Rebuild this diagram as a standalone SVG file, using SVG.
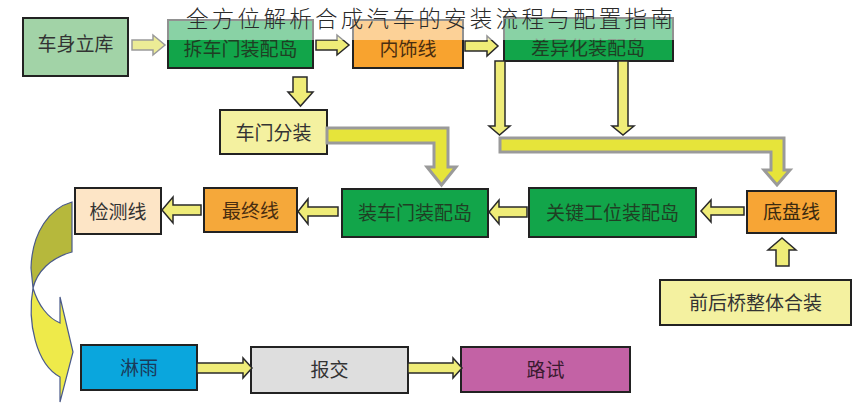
<svg xmlns="http://www.w3.org/2000/svg" width="863" height="408" viewBox="0 0 863 408">
<style>
.box{stroke:#222;stroke-width:2}
.t{font-family:"Noto Sans CJK SC","Noto Sans",sans-serif;font-size:19px;text-anchor:middle}
.arr{fill:#efec78;stroke:#2a2a2a;stroke-width:1.5;stroke-linejoin:miter}
.arr0{fill:#ecec96;stroke:#9a9a9a;stroke-width:1.5}
.lc{fill:#e6e43a;stroke:#9a9a9a;stroke-width:3;stroke-linejoin:miter}
.curve{stroke:#4a5a8a;stroke-width:1.2}
</style>
<rect width="863" height="408" fill="#ffffff"/>
<g id="n1"><rect class="box" x="23" y="18" width="105" height="58" fill="#a2d3a7"/><text class="t" x="75.5" y="51" fill="#333">车身立库</text></g>
<g id="n2"><rect class="box" x="168" y="20" width="145" height="48" fill="#12a54a"/><text class="t" x="240.5" y="56" fill="#1f3f24">拆车门装配岛</text></g>
<g id="n3"><rect class="box" x="353" y="20" width="110" height="48" fill="#f8a32f"/><text class="t" x="408" y="56" fill="#4a2e10">内饰线</text></g>
<g id="n4"><rect class="box" x="504" y="18" width="169" height="43" fill="#12a54a"/><text class="t" x="588" y="55" fill="#1f3f24">差异化装配岛</text></g>
<g id="n5"><rect class="box" x="220" y="110" width="107" height="44" fill="#f4f1a0"/><text class="t" x="273.5" y="140" fill="#333">车门分装</text></g>
<g id="n6"><rect class="box" x="75" y="188" width="86" height="46" fill="#fde5c6"/><text class="t" x="118" y="219" fill="#333">检测线</text></g>
<g id="n7"><rect class="box" x="204" y="188" width="93" height="44" fill="#f5a83a"/><text class="t" x="250.5" y="218" fill="#4a2e10">最终线</text></g>
<g id="n8"><rect class="box" x="342" y="189" width="146" height="48" fill="#12a54a"/><text class="t" x="415" y="220" fill="#1f3f24">装车门装配岛</text></g>
<g id="n9"><rect class="box" x="529" y="188" width="167" height="49" fill="#12a54a"/><text class="t" x="612.5" y="220" fill="#1f3f24">关键工位装配岛</text></g>
<g id="n10"><rect class="box" x="747" y="191" width="89" height="42" fill="#f7a535"/><text class="t" x="791.5" y="219" fill="#3a2a10">底盘线</text></g>
<g id="n11"><rect class="box" x="660" y="280" width="191" height="45" fill="#f4f1a0"/><text class="t" x="755.5" y="310" fill="#333">前后桥整体合装</text></g>
<g id="n12"><rect class="box" x="81" y="345" width="116" height="45" fill="#0aa6dd"/><text class="t" x="139" y="375" fill="#1a3a5a">淋雨</text></g>
<g id="n13"><rect class="box" x="251" y="347" width="157" height="46" fill="#dedede"/><text class="t" x="329.5" y="377" fill="#333">报交</text></g>
<g id="n14"><rect class="box" x="461" y="347" width="169" height="45" fill="#c362a5"/><text class="t" x="545.5" y="377" fill="#3a1a30">路试</text></g>
<g id="connectors">
<path class="arr0" d="M132,40 H153 V35 L165,45 L153,55 V50 H132 Z"/>
<path class="arr" d="M316,40 H337 V35 L349,45 L337,55 V50 H316 Z"/>
<path class="arr" d="M465,41 H487 V36 L498,46 L487,56 V51 H465 Z"/>
<path class="arr" d="M293,77 H307 V92 H313 L300.5,106 L288,92 H293 Z"/>
<path class="arr" d="M495,61 H505 V126 H510 L499.5,135 L489,126 H495 Z"/>
<path class="arr" d="M618,61 H628 V126 H634 L623,135 L612,126 H618 Z"/>
<path class="lc" d="M327,128 H448 V167 H456 L441.5,185 L427,167 H434 V143 H327 Z"/>
<path class="lc" d="M500,138 H784 V170 H790 L777,185 L764,170 H771 V152 H500 Z"/>
<path class="arr" d="M744,207 H711 V200 L701,211 L711,222 V215 H744 Z"/>
<path class="arr" d="M527,207 H499 V200 L489,212 L499,224 V217 H527 Z"/>
<path class="arr" d="M338,207 H308 V199 L298,211.5 L308,224 V216 H338 Z"/>
<path class="arr" d="M201,205 H173 V197 L162,210 L173,223 V215 H201 Z"/>
<path class="arr" d="M776,266 V250 H768 L782,238 L796,250 H789 V266 Z"/>
<path class="arr" d="M197,363 H243 V358 L252,368 L243,378 V373 H197 Z"/>
<path class="arr" d="M408,363 H453 V358 L462,368 L453,378 V373 H408 Z"/>
<path class="curve" fill="#b6b83c" d="M72,202 C50,208 32,232 31,268 L33,288 C37,272 50,258 72,252 Z"/>
<path class="curve" fill="#eeea4a" d="M33,288 C27,322 36,364 60,377 L60,402 L73,352 L60,297 L60,323 C48,318 38,305 33,288 Z"/>
</g>
<g id="title">
<rect x="166" y="8" width="512" height="32" fill="#ffffff" fill-opacity="0.5"/>
<text x="186" y="26.5" font-family="'Noto Sans CJK SC','Noto Sans',sans-serif" font-size="22.5" letter-spacing="3.3" font-weight="300" fill="#2a2a2a">全方位解析合成汽车的安装流程与配置指南</text>
</g>
</svg>
